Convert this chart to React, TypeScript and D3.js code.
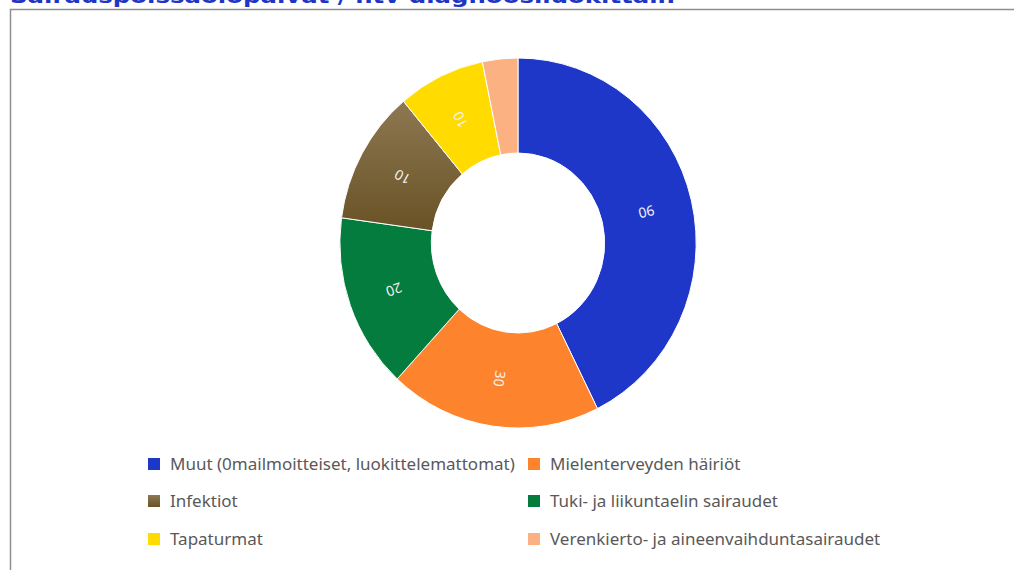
import React, { useRef, useEffect } from 'react';
import * as d3 from 'd3';

// slice shares (percent)
const categories = [
  'Muut (0mailmoitteiset, luokittelemattomat)',
  'Mielenterveyden häiriöt',
  'Tuki- ja liikuntaelin sairaudet',
  'Infektiot',
  'Tapaturmat',
  'Verenkierto- ja aineenvaihduntasairaudet',
];
const values = [42.6, 19.2, 15.3, 11.7, 7.9, 3.2];
const sliceLabels = ['90', '30', '20', '10', '10', ''];
const colors = ['#1e37c8', '#fd842c', '#037c3d', 'url(#brownGrad)', '#ffdb00', '#fbb182'];
// legend order: row by row, two columns
const legendOrder = [0, 1, 3, 2, 4, 5];

const title = 'Sairauspoissaolopäivät / htv diagnoosiluokittain';

const W = 1014;
const H = 570;

const App: React.FC = () => {
  const ref = useRef<SVGSVGElement | null>(null);

  useEffect(() => {
    if (!ref.current) return;
    const svg = d3.select(ref.current);
    svg.selectAll('*').remove();

    const defs = svg.append('defs');
    const grad = defs.append('linearGradient')
      .attr('id', 'brownGrad')
      .attr('x1', 0).attr('y1', 0).attr('x2', 0).attr('y2', 1);
    grad.append('stop').attr('offset', '0%').attr('stop-color', '#8d7852');
    grad.append('stop').attr('offset', '100%').attr('stop-color', '#695225');

    // title, mostly cut off at the top
    svg.append('text')
      .attr('x', 10)
      .attr('y', 3)
      .attr('font-family', 'DejaVu Sans')
      .attr('font-weight', 'bold')
      .attr('font-size', 20)
      .attr('fill', '#1f35c7')
      .attr('textLength', 665)
      .attr('lengthAdjust', 'spacingAndGlyphs')
      .text(title);

    // frame
    svg.append('path')
      .attr('d', `M10.5,${H}V9.5H${W}`)
      .attr('fill', 'none')
      .attr('stroke', '#8f8f8f')
      .attr('stroke-width', 1.5);

    const cx = 518;
    const cy = 243;
    const outer = 185;
    const inner = 90;
    const sx = 0.963; // the donut is a bit narrower than tall

    const pie = d3.pie<number>().sort(null).value(d => d);
    const arcs = pie(values);
    const arc = d3.arc<d3.PieArcDatum<number>>().innerRadius(inner).outerRadius(outer);
    const labelArc = d3.arc<d3.PieArcDatum<number>>().innerRadius(137).outerRadius(137);

    const g = svg.append('g').attr('transform', `translate(${cx},${cy}) scale(${sx},1)`);

    g.selectAll('path.slice')
      .data(arcs)
      .enter()
      .append('path')
      .attr('class', 'slice')
      .attr('d', arc)
      .attr('fill', (_, i) => colors[i])
      .attr('stroke', '#ffffff')
      .attr('stroke-width', 1);

    svg.append('g')
      .attr('transform', `translate(${cx},${cy})`)
      .selectAll('text.lbl')
      .data(arcs)
      .enter()
      .append('text')
      .attr('class', 'lbl')
      .attr('transform', d => {
        const [x, y] = labelArc.centroid(d);
        const mid = ((d.startAngle + d.endAngle) / 2) * 180 / Math.PI;
        const rot = mid < 180 ? mid + 90 : mid - 90;
        return `translate(${x * sx},${y}) rotate(${rot})`;
      })
      .attr('text-anchor', 'middle')
      .attr('dy', '0.35em')
      .attr('font-family', 'Noto Sans')
      .attr('font-size', 14)
      .attr('fill', '#f2f2f2')
      .text((_, i) => sliceLabels[i]);

    // legend
    const colX = [148, 528];
    const rowY = [464, 501, 539];
    const leg = svg.append('g');
    legendOrder.forEach((ci, k) => {
      const x = colX[k % 2];
      const y = rowY[Math.floor(k / 2)];
      leg.append('rect')
        .attr('x', x)
        .attr('y', y - 6)
        .attr('width', 12)
        .attr('height', 12)
        .attr('fill', colors[ci]);
      leg.append('text')
        .attr('x', x + 22)
        .attr('y', y)
        .attr('dy', '0.35em')
        .attr('font-family', 'Noto Sans')
        .attr('font-size', 17)
        .attr('fill', '#595959')
        .text(categories[ci]);
    });
  }, []);

  return (
    <svg
      ref={ref}
      width={W}
      height={H}
      style={{ position: 'absolute', left: 0, top: 0, background: '#fff' }}
    />
  );
};

export default App;
